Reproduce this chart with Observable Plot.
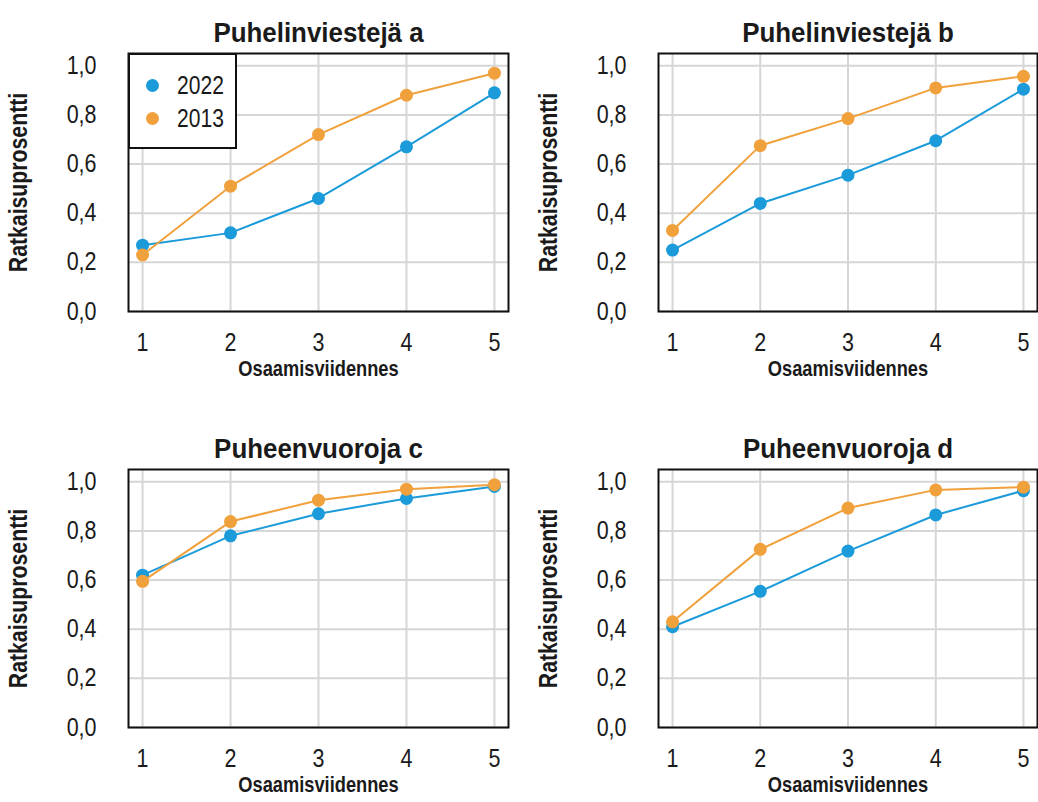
<!DOCTYPE html>
<html>
<head>
<meta charset="utf-8">
<script src="https://cdn.jsdelivr.net/npm/d3@7"></script>
<script src="https://cdn.jsdelivr.net/npm/@observablehq/plot@0.6"></script>
<style>
  html, body { margin: 0; padding: 0; background: #fff; overflow: hidden; }
  #root { position: relative; width: 1038px; height: 802px; }
  .panel { position: absolute; }
  .legend { position: absolute; box-sizing: border-box; border: 2px solid #111; background: #fff; }
  .legend .sw { position: absolute; width: 13px; height: 13px; border-radius: 50%; }
  .legend .lab { position: absolute; color: #1a1a1a; line-height: 1; transform-origin: left center; }
</style>
</head>
<body>
<div id="root"></div>
<script>
// Quintiles on the x axis and the two measurement years
const quintiles = [1, 2, 3, 4, 5];
const years = ["2022", "2013"];
const yearColors = ["#1b9bd9", "#f0a13c"];
const yTicks = [0, 0.2, 0.4, 0.6, 0.8, 1.0];

const panelTitles = ["Puhelinviestejä a", "Puhelinviestejä b", "Puheenvuoroja c", "Puheenvuoroja d"];
const yLabel = "Ratkaisuprosentti";
const xLabel = "Osaamisviidennes";

// Solution rates per quintile
const a2022 = [0.27, 0.32, 0.46, 0.67, 0.89];
const a2013 = [0.23, 0.51, 0.72, 0.88, 0.97];
const b2022 = [0.25, 0.44, 0.555, 0.695, 0.905];
const b2013 = [0.33, 0.675, 0.785, 0.91, 0.957];
const c2022 = [0.62, 0.78, 0.87, 0.932, 0.981];
const c2013 = [0.595, 0.838, 0.925, 0.970, 0.988];
const d2022 = [0.41, 0.554, 0.718, 0.865, 0.964];
const d2013 = [0.43, 0.725, 0.893, 0.967, 0.978];

const series = [[a2022, a2013], [b2022, b2013], [c2022, c2013], [d2022, d2013]];

// Placement of each small multiple on the page
const layout = [
  {left: 0,   top: 0,   width: 519, height: 400, marginRight: 11, marginBottom: 89},
  {left: 530, top: 0,   width: 508, height: 400, marginRight: 1,  marginBottom: 89},
  {left: 0,   top: 416, width: 519, height: 386, marginRight: 11, marginBottom: 75},
  {left: 530, top: 416, width: 508, height: 386, marginRight: 1,  marginBottom: 75}
];

const font = "'Liberation Sans', Arial, sans-serif";
// Axis text is set in a condensed style: larger glyphs, narrowed horizontally
const sizes = {title: 27, tick: 25, ylab: 25, xlab: 22, legend: 26};
const squeeze = {title: 0.96, tick: 0.86, ylab: 0.85, xlab: 0.83, legend: 0.81};

const fmt = d => d.toFixed(1).replace(".", ",");
const xFmt = d => String(d);
const gridStyle = {stroke: "#d6d6d6", strokeOpacity: 1, strokeWidth: 2};

function rowsFor(values, year) {
  return quintiles.map((q, i) => ({x: q, y: values[i], year}));
}

// Narrow the given text elements horizontally around their anchor point
function condense(svg, match, sx) {
  svg.querySelectorAll("text").forEach(el => {
    if (!match(el.textContent)) return;
    const x = el.getAttribute("x");
    if (x !== null && !isNaN(+x)) el.setAttribute("x", +x / sx);
    const t = el.getAttribute("transform") || "";
    el.setAttribute("transform", `${t} scale(${sx},1)`.trim());
  });
}

const tickStrings = new Set([...quintiles.map(xFmt), ...yTicks.map(fmt)]);

function panel(i) {
  const L = layout[i];
  const seriesMarks = [];
  years.forEach((yr, k) => {
    const rows = rowsFor(series[i][k], yr);
    seriesMarks.push(Plot.line(rows, {x: "x", y: "y", stroke: yearColors[k], strokeWidth: 2}));
    seriesMarks.push(Plot.dot(rows, {x: "x", y: "y", fill: yearColors[k], r: 6.5}));
  });
  const svg = Plot.plot({
    width: L.width,
    height: L.height,
    marginLeft: 128,
    marginTop: 53,
    marginRight: L.marginRight,
    marginBottom: L.marginBottom,
    style: {fontFamily: font, fontSize: sizes.tick + "px", color: "#1a1a1a", background: "transparent"},
    x: {domain: [0.84, 5.16], axis: null},
    y: {domain: [0, 1.05], axis: null},
    marks: [
      Plot.gridX(quintiles, gridStyle),
      Plot.gridY(yTicks, gridStyle),
      Plot.axisX(quintiles, {tickSize: 0, tickPadding: 22, fontSize: sizes.tick, tickFormat: xFmt, label: null}),
      Plot.axisY(yTicks, {tickSize: 0, tickPadding: 32, fontSize: sizes.tick, tickFormat: fmt, label: null}),
      ...seriesMarks,
      Plot.frame({stroke: "#111", strokeWidth: 2}),
      Plot.text([panelTitles[i]], {text: d => d, frameAnchor: "top", dy: -31, fontSize: sizes.title, fontWeight: "bold"}),
      Plot.text([yLabel], {text: d => d, frameAnchor: "left", textAnchor: "middle", dx: -110, rotate: -90, fontSize: sizes.ylab, fontWeight: "bold"}),
      Plot.text([xLabel], {text: d => d, frameAnchor: "bottom", dy: 64, fontSize: sizes.xlab, fontWeight: "bold"})
    ]
  });
  condense(svg, s => tickStrings.has(s), squeeze.tick);
  condense(svg, s => s === yLabel, squeeze.ylab);
  condense(svg, s => s === xLabel, squeeze.xlab);
  condense(svg, s => s === panelTitles[i], squeeze.title);
  return svg;
}

const root = document.getElementById("root");
layout.forEach((L, i) => {
  const wrap = document.createElement("div");
  wrap.className = "panel";
  wrap.style.left = L.left + "px";
  wrap.style.top = L.top + "px";
  wrap.appendChild(panel(i));
  root.appendChild(wrap);
});

// Year key inside the first panel's upper-left corner
const legend = document.createElement("div");
legend.className = "legend";
legend.style.left = "128px";
legend.style.top = "53px";
legend.style.width = "109px";
legend.style.height = "96px";
years.forEach((yr, k) => {
  const cy = 32 + k * 33;
  const sw = document.createElement("div");
  sw.className = "sw";
  sw.style.background = yearColors[k];
  sw.style.left = (24 - 6.5 - 2) + "px";
  sw.style.top = (cy - 6.5 - 2) + "px";
  const lab = document.createElement("div");
  lab.className = "lab";
  lab.textContent = yr;
  lab.style.fontFamily = font;
  lab.style.fontSize = sizes.legend + "px";
  lab.style.transform = `translateY(-50%) scaleX(${squeeze.legend})`;
  lab.style.left = (49 - 2) + "px";
  lab.style.top = (cy - 2) + "px";
  legend.appendChild(sw);
  legend.appendChild(lab);
});
root.appendChild(legend);
</script>
</body>
</html>
